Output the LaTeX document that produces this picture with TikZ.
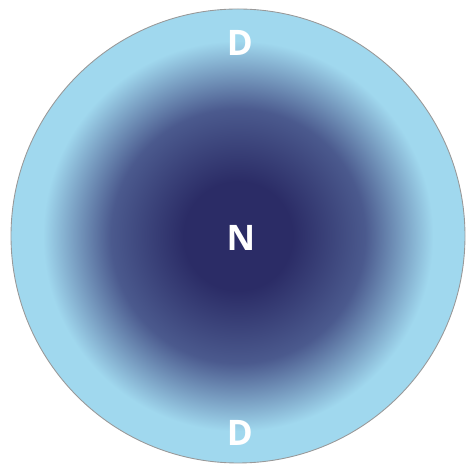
\documentclass[tikz,border=0pt]{standalone}
\usepackage{tikz}
\usetikzlibrary{positioning}
\usepackage{fontspec}
\setsansfont{Open Sans}
\definecolor{navycore}{HTML}{2B2C66}
\definecolor{midcore}{HTML}{4B5A8E}
\definecolor{skyshell}{HTML}{A0D8EE}
\pgfdeclareradialshading{coreshade}{\pgfpoint{0bp}{0bp}}{%
  color(0bp)=(navycore); color(6bp)=(navycore); color(14bp)=(midcore);
  color(21.5bp)=(skyshell); color(25bp)=(skyshell); color(50bp)=(skyshell)}

\begin{document}
\begin{tikzpicture}[
        letter/.style={text=white, font=\sffamily\bfseries\fontsize{20}{24}\selectfont, inner sep=0pt}]
    \useasboundingbox (0,0) rectangle (9.32,9.30);

    % Shell with core
    \shade[shading=coreshade, draw=gray!80, line width=0.5pt] (4.76,4.58) circle (4.54);

    % Labels
    \node[letter] (top) at (4.80,8.44) {D};
    \node[letter] (core) at (4.82,4.54) {N};
    \node[letter] (bottom) at (4.80,0.64) {D};
\end{tikzpicture}
\end{document}
